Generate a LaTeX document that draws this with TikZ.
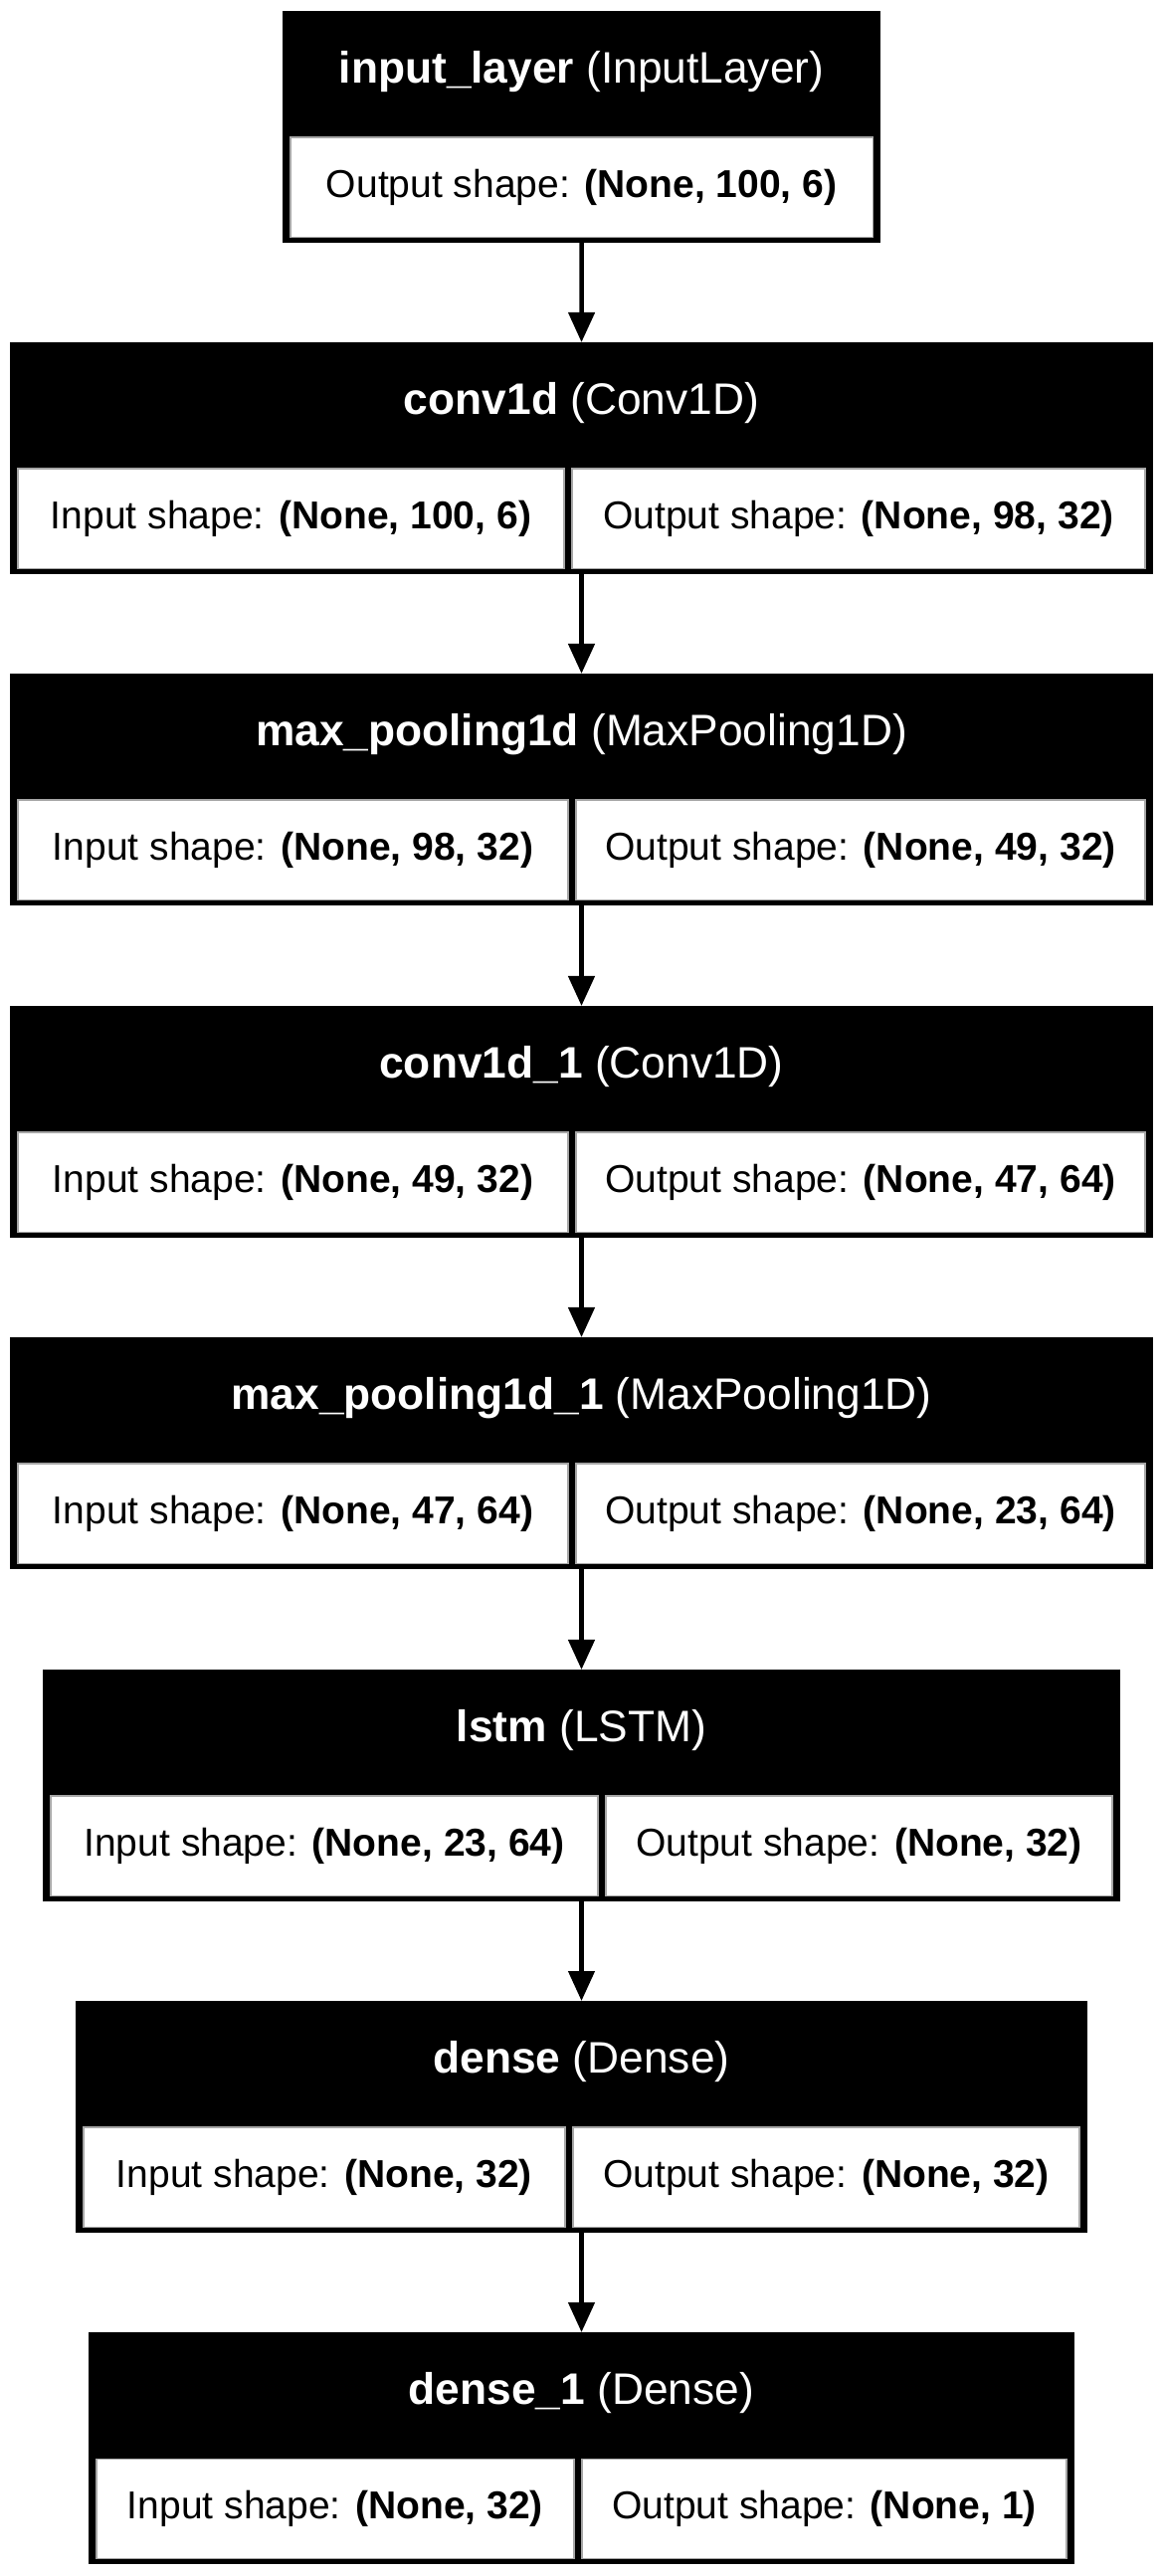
\documentclass[tikz,border=0pt]{standalone}
\usepackage{fontspec}
\setmainfont{Liberation Sans}
\usetikzlibrary{arrows.meta}

% name, top, left, split, right, title, input, output
\newcommand{\kerasbox}[8]{%
  \node[layerbox,minimum width={(#5-#3)*0.01cm},anchor=north west](#1)at(#3,#2){};
  \node[titletext]at({(#3+#5)/2},{#2+61}){#6};
  \node[shapecell,minimum width={(#4-#3-8)*0.01cm},anchor=north west](#1-in)
    at({#3+8},{#2+127}){Input shape: \textbf{#7}};
  \node[shapecell,minimum width={(#5-#4-16)*0.01cm},anchor=north west](#1-out)
    at({#4+8},{#2+127}){Output shape: \textbf{#8}};
}

\begin{document}
\begin{tikzpicture}[x=0.01cm,y=-0.01cm,
    every node/.style={inner sep=0pt,outer sep=0pt},
    layerbox/.style={fill=black,minimum height=2.33cm},
    titletext/.style={text=white,font=\fontsize{12.6pt}{14pt}\selectfont},
    shapecell/.style={fill=white,draw=black!35,line width=0.3pt,minimum height=1cm,
      font=\fontsize{11.1pt}{13pt}\selectfont},
    flow/.style={line width=0.045cm,-{Triangle[length=0.3cm,width=0.26cm]}}]
  \fill[white](0,0)rectangle(1169,2589);
  \useasboundingbox(0,0)rectangle(1169,2589);
  \node[layerbox,minimum width=6.01cm,anchor=north west](inlayer)at(284,11){};
  \node[titletext]at(584.5,72){\textbf{input\_layer} (InputLayer)};
  \node[shapecell,minimum width=5.85cm,anchor=north west](inlayer-out)at(292,138)
    {Output shape: \textbf{(None, 100, 6)}};
  \kerasbox{conv1}{344}{10}{567}{1159}{\textbf{conv1d} (Conv1D)}{(None, 100, 6)}{(None, 98, 32)}
  \kerasbox{pool1}{677}{10}{571}{1159}{\textbf{max\_pooling1d} (MaxPooling1D)}{(None, 98, 32)}{(None, 49, 32)}
  \kerasbox{conv2}{1011}{10}{571}{1159}{\textbf{conv1d\_1} (Conv1D)}{(None, 49, 32)}{(None, 47, 64)}
  \kerasbox{pool2}{1344}{10}{571}{1159}{\textbf{max\_pooling1d\_1} (MaxPooling1D)}{(None, 47, 64)}{(None, 23, 64)}
  \kerasbox{lstm}{1678}{43}{601}{1126}{\textbf{lstm} (LSTM)}{(None, 23, 64)}{(None, 32)}
  \kerasbox{dense1}{2011}{76}{568}{1093}{\textbf{dense} (Dense)}{(None, 32)}{(None, 32)}
  \kerasbox{dense2}{2344}{89}{577}{1080}{\textbf{dense\_1} (Dense)}{(None, 32)}{(None, 1)}
  \draw[flow](inlayer.south)--(conv1.north);
  \draw[flow](conv1.south)--(pool1.north);
  \draw[flow](pool1.south)--(conv2.north);
  \draw[flow](conv2.south)--(pool2.north);
  \draw[flow](pool2.south)--(lstm.north);
  \draw[flow](lstm.south)--(dense1.north);
  \draw[flow](dense1.south)--(dense2.north);
\end{tikzpicture}
\end{document}
